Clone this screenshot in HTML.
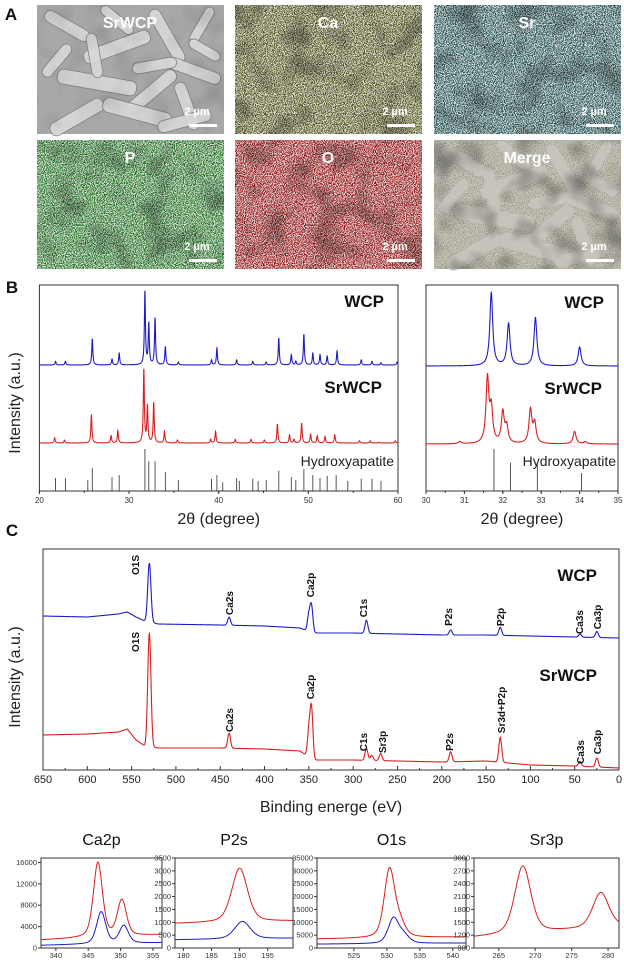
<!DOCTYPE html>
<html><head><meta charset="utf-8">
<style>
html,body{margin:0;padding:0;background:#fff;}
svg{display:block;font-family:"Liberation Sans",Arial,sans-serif;}
</style></head>
<body>
<svg id="fig" width="624" height="964" viewBox="0 0 624 964" xmlns="http://www.w3.org/2000/svg">
<defs>
<filter id="spk" x="0" y="0" width="100%" height="100%">
 <feTurbulence type="fractalNoise" baseFrequency="1.1" numOctaves="1" seed="3" result="n"/>
 <feColorMatrix in="n" type="matrix" values="0 0 0 0 1  0 0 0 0 1  0 0 0 0 1  7 0 0 0 -3.0"/>
</filter>
<filter id="patch" x="0" y="0" width="100%" height="100%">
 <feTurbulence type="fractalNoise" baseFrequency="0.035" numOctaves="2" seed="7" result="n"/>
 <feColorMatrix in="n" type="matrix" values="0 0 0 0 0  0 0 0 0 0  0 0 0 0 0  3 0 0 0 -1.4"/>
</filter>
</defs>
<g id="panelA"></g>
<g id="panelB"></g>
<g id="panelC"></g>
<g id="panelD"></g>
</svg>
<script>
// ---------- DATA: XRD (panel B, left) ----------
const wcpPos=[21.8,22.9,25.9,28.1,28.9,31.77,32.2,32.9,34.05,35.5,39.2,39.8,42.0,43.8,45.3,46.7,48.1,48.6,49.5,50.5,51.3,52.1,53.2,55.9,57.1,58.1,59.9];
const wcpInt=[5,5,36,8,16,100,56,64,25,4,7,23,7,5,4,37,14,5,42,16,14,12,19,7,5,3,4];
const srPos=[21.7,22.8,25.8,28.0,28.75,31.65,32.05,32.75,33.95,35.4,39.1,39.65,41.85,43.6,45.1,46.55,47.9,48.4,49.25,50.25,51.0,51.85,52.95,55.7,56.9,57.9,59.7];
const srInt=[7,4,39,10,17,100,50,55,16,4,5,16,5,5,4,26,11,5,27,12,10,9,11,3,3,1,3];
const hapPos=[21.8,22.9,25.4,25.9,28.1,28.9,31.77,32.2,32.9,34.05,35.5,39.2,39.8,40.45,42.0,42.3,43.8,44.4,45.3,46.7,48.1,48.6,49.5,50.5,51.3,52.1,53.1,54.4,55.9,57.1,58.1,60];
const hapInt=[31,31,26,55,33,38,100,71,71,45,26,29,38,21,31,24,29,24,26,48,33,26,52,38,31,36,38,24,29,29,24,24];
const xrdTicks=[20,30,40,50,60];
// ---------- DATA: XRD zoom (panel B, right) ----------
const wcpZPos=[31.7,32.15,32.85,34.0];
const wcpZInt=[100,58,66,26];
const srZPos=[30.88,31.6,31.7,32.0,32.1,32.72,32.83,33.87,34.15];
const srZInt=[3,88,45,42,22,46,27,17,3];
const hapZPos=[31.77,32.2,32.9,34.05];
const hapZInt=[100,67,67,43];
const xrdZTicks=[30,31,32,33,34,35];
// ---------- DATA: XPS survey (panel C) ----------
const bgBE=[650,600,565,555,545,535,520,450,400,360,345,300,200,150,100,50,0];
const wcpBg=[154,153,156,158,153,149,146,145,144,142,137,137,135,135,134,133,132];
const srBg=[35,36,38,41,30,24,22,22,21,19,10,10,8,9,5,4,2];
const wcpPeakBE=[530,440,350,347,285,190,134,44,25];
const wcpPeakAmp=[59,8,16,26,13,5,8,3,6];
const srPeakBE=[530,440,350,347,285,279,269,190,134,44,25];
const srPeakAmp=[114,15,25,50,12,5,7,10,25,5,9];
const xpsTicks=[650,600,550,500,450,400,350,300,250,200,150,100,50,0];
const wcpLabels=["O1S","Ca2s","Ca2p","C1s","P2s","P2p","Ca3s","Ca3p"];
const srLabels=["O1S","Ca2s","Ca2p","C1s","Sr3p","P2s","Sr3d+P2p","Ca3s","Ca3p"];
// ---------- DATA: high-res insets ----------
const ca2pXTicks=[340,345,350,355], ca2pYTicks=[0,4000,8000,12000,16000];
const ca2pRedPos=[346.5,350.2], ca2pRedAmp=[14000,6700], ca2pRedBg=[1500,2500];
const ca2pBluePos=[347,350.5], ca2pBlueAmp=[6000,3300], ca2pBlueBg=[500,1000];
const p2sXTicks=[180,185,190,195], p2sYTicks=[0,500,1000,1500,2000,2500,3000,3500];
const p2sRedPos=[190], p2sRedAmp=[2100], p2sRedBg=[950,1050];
const p2sBluePos=[190.5], p2sBlueAmp=[680], p2sBlueBg=[320,380];
const o1sXTicks=[525,530,535,540], o1sYTicks=[0,5000,10000,15000,20000,25000,30000,35000];
const o1sRedPos=[530.4,532], o1sRedAmp=[26500,5000], o1sRedBg=[3500,4300];
const o1sBluePos=[531,532.6], o1sBlueAmp=[9800,3000], o1sBlueBg=[1500,1900];
const sr3pXTicks=[265,270,275,280], sr3pYTicks=[900,1200,1500,1800,2100,2400,2700,3000];
const sr3pRedPos=[268.3,279], sr3pRedAmp=[1580,820], sr3pRedBg=[1150,1400];

const NS='http://www.w3.org/2000/svg';
const BLUE='#1c1cc4', RED='#d81e1e', AX='#333';
function mk(tag,attrs,parent){const e=document.createElementNS(NS,tag);for(const k in attrs)e.setAttribute(k,attrs[k]);parent.appendChild(e);return e;}
function lin(d0,d1,r0,r1){return v=>r0+(v-d0)/(d1-d0)*(r1-r0);}
function txt(p,x,y,s,size,opt){opt=opt||{};const t=mk('text',{x:x,y:y,'font-size':size,'text-anchor':opt.anchor||'middle',fill:opt.fill||'#111','font-weight':opt.bold?'bold':'normal'},p);if(opt.rot)t.setAttribute('transform','rotate('+opt.rot+' '+x+' '+y+')');t.textContent=s;return t;}
function lor(x,c,w){const d=(x-c)/w;return 1/(1+d*d);}
function gau(x,c,s){const d=(x-c)/s;return Math.exp(-0.5*d*d);}
function interp(xs,ys,x){for(let i=0;i<xs.length-1;i++){const a=xs[i],b=xs[i+1];if((x<=a&&x>=b)||(x>=a&&x<=b)){const t=(x-a)/(b-a);return ys[i]+t*(ys[i+1]-ys[i]);}}return ys[ys.length-1];}
function pathFrom(pts){return 'M'+pts.map(p=>p[0].toFixed(2)+','+p[1].toFixed(2)).join('L');}

// ================= PANEL A =================
const A=document.getElementById('panelA');
txt(A,11,20,'A',17,{bold:true});
const imgs=[
 {n:'sem-image',t:'SrWCP',x:37,y:5,base:'#a8a8a8',sp:null},
 {n:'ca-map',t:'Ca',x:235,y:5,base:'#4a4a12',sp:'#e8e23a'},
 {n:'sr-map',t:'Sr',x:434,y:5,base:'#184848',sp:'#3cc8c8'},
 {n:'p-map',t:'P',x:37,y:140,base:'#1a6a1a',sp:'#48d048'},
 {n:'o-map',t:'O',x:235,y:140,base:'#900c0c',sp:'#f02020'},
 {n:'merge-map',t:'Merge',x:434,y:140,base:'#a09e8c',sp:'#c8c040'}];
const rods=[[5,15,50,12,30],[45,35,70,14,-20],[100,25,60,12,60],[20,70,80,15,10],[85,80,60,13,-40],[130,60,55,12,20],[10,105,60,14,-30],[65,100,70,15,15],[125,95,50,12,70],[145,15,40,10,-60],[35,45,45,11,80],[95,55,45,11,-10],[150,40,35,10,30],[0,50,40,11,-50],[120,110,55,12,-15],[60,10,40,10,40]];
imgs.forEach((im,i)=>{
 const g=mk('g',{},A);
 
 
 mk('rect',{x:im.x,y:im.y,width:187,height:129,fill:im.base},g);
 if(im.sp){mk('rect',{x:im.x,y:im.y,width:187,height:129,fill:im.sp,filter:'url(#spk)',opacity:im.n==='merge-map'?0.5:0.9},g);}
 if(im.n==='sem-image'||im.n==='merge-map'){
  rods.forEach(r=>{mk('rect',{x:im.x+r[0],y:im.y+r[1],width:r[2],height:r[3],rx:6,fill:im.n==='sem-image'?'#d8d8d8':'#c6c4bc',stroke:im.n==='sem-image'?'#7a7a7a':'none','stroke-width':0.8,opacity:0.9,transform:'rotate('+r[4]+' '+(im.x+r[0]+r[2]/2)+' '+(im.y+r[1]+r[3]/2)+')'},g);});
 }
 mk('rect',{x:im.x,y:im.y,width:187,height:129,fill:'#000',filter:'url(#patch)',opacity:im.n==='sem-image'?0.1:0.3},g);
 txt(g,im.x+93,im.y+23,im.t,16,{bold:true,fill:'#fff'});
 txt(g,im.x+160,im.y+110,'2 µm',11,{bold:true,fill:'#fff'});
 mk('rect',{x:im.x+152,y:im.y+119,width:28,height:3,fill:'#fff'},g);
});

// ================= PANEL B =================
const B=document.getElementById('panelB');
txt(B,12,293,'B',17,{bold:true});
txt(B,20,403,'Intensity (a.u.)',16,{rot:-90,fill:'#222'});
function xrdPanel(name,x0,x1,d0,d1,step,series,sticks,ticks,minor,labelX){
 const g=mk('g',{},B);
 
 
 const X=lin(d0,d1,x0,x1), top=285, bot=491;
 series.forEach(s=>{
  const pts=[];for(let v=d0;v<=d1+1e-9;v+=step){let y=0;for(let i=0;i<s.pos.length;i++)y+=s.int[i]*lor(v,s.pos[i],s.w);pts.push([X(v),s.base-y*0.73]);}
  const p=mk('path',{d:pathFrom(pts),fill:'none',stroke:s.col,'stroke-width':1.1},g);
  
  
  txt(g,s.lx,s.base-(s.name.indexOf('srwcp')>=0?50:58),s.label,17,{bold:true,anchor:'end'});
 });
 sticks.pos.forEach((v,i)=>{const l=mk('line',{x1:X(v),x2:X(v),y1:bot,y2:bot-sticks.int[i]*0.42,stroke:'#444','stroke-width':0.9},g);
  
  });
 txt(g,labelX,466,'Hydroxyapatite',14,{anchor:'end',fill:'#222'});
 mk('rect',{x:x0,y:top,width:x1-x0,height:bot-top,fill:'none',stroke:AX,'stroke-width':1},g);
 ticks.forEach(t=>{mk('line',{x1:X(t),x2:X(t),y1:bot,y2:bot+3,stroke:AX},g);txt(g,X(t),503,String(t),8,{fill:'#333'});});
 for(let t=d0;t<=d1;t+=minor)mk('line',{x1:X(t),x2:X(t),y1:bot,y2:bot+2,stroke:AX},g);
 txt(g,(x0+x1)/2,524,'2θ (degree)',16,{fill:'#222'});
}
xrdPanel('xrd-full',39.4,398,20,60,0.01,[
 {name:'wcp-xrd-line',label:'WCP',pos:wcpPos,int:wcpInt,w:0.07,base:365,col:BLUE,lx:384},
 {name:'srwcp-xrd-line',label:'SrWCP',pos:srPos,int:srInt,w:0.07,base:443,col:RED,lx:382}],
 {pos:hapPos,int:hapInt},xrdTicks,5,394);
xrdPanel('xrd-zoom',426,618,30,35,0.004,[
 {name:'wcp-xrd-zoom-line',label:'WCP',pos:wcpZPos,int:wcpZInt,w:0.045,base:366,col:BLUE,lx:604},
 {name:'srwcp-xrd-zoom-line',label:'SrWCP',pos:srZPos,int:srZInt,w:0.045,base:444,col:RED,lx:602}],
 {pos:hapZPos,int:hapZInt},xrdZTicks,0.5,616);

// ================= PANEL C =================
const C=document.getElementById('panelC');
txt(C,12,536,'C',17,{bold:true});
txt(C,20,677,'Intensity (a.u.)',16,{rot:-90,fill:'#222'});
(function(){
 const x0=43,x1=619,top=549,bot=770;const X=lin(650,0,x0,x1);
 const ser=[{n:'wcp-xps-line',bg:wcpBg,pb:wcpPeakBE,pa:wcpPeakAmp,col:BLUE},{n:'srwcp-xps-line',bg:srBg,pb:srPeakBE,pa:srPeakAmp,col:RED}];
 ser.forEach(s=>{const pts=[];for(let e=650;e>=0;e-=0.5){let v=interp(bgBE,s.bg,e);for(let i=0;i<s.pb.length;i++)v+=s.pa[i]*gau(e,s.pb[i],s.pb[i]===530?1.8:1.6);pts.push([X(e),bot-v]);}
  const p=mk('path',{d:pathFrom(pts),fill:'none',stroke:s.col,'stroke-width':1.1},C);
  
  });
 mk('rect',{x:x0,y:top,width:x1-x0,height:bot-top,fill:'none',stroke:AX,'stroke-width':1},C);
 xpsTicks.forEach(t=>{mk('line',{x1:X(t),x2:X(t),y1:bot,y2:bot-4,stroke:AX},C);txt(C,X(t),783,String(t),11,{fill:'#222'});});
 for(let t=625;t>0;t-=50)mk('line',{x1:X(t),x2:X(t),y1:bot,y2:bot-2,stroke:AX},C);
 txt(C,331,812,'Binding energe (eV)',16,{fill:'#222'});
 const wl=[[135,565],[229,603],[310,585],[363,608],[448,617],[500,617],[579,622],[597,617]];
 wcpLabels.forEach((s,i)=>txt(C,wl[i][0]+4,wl[i][1],s,10,{bold:true,rot:-90}));
 const sl=[[135,642],[229,720],[310,687],[363,742],[382,742],[449,742],[501,710],[580,752],[597,742]];
 srLabels.forEach((s,i)=>txt(C,sl[i][0]+4,sl[i][1],s,10,{bold:true,rot:-90}));
 txt(C,597,581,'WCP',17,{bold:true,anchor:'end'});
 txt(C,597,681,'SrWCP',17,{bold:true,anchor:'end'});
})();

// ================= INSETS =================
const D=document.getElementById('panelD');
function inset(name,title,x0,x1,xd,yd,xt,yt,series,wid){
 const g=mk('g',{},D);
 
 
 const top=858,bot=948;const X=lin(xd[0],xd[1],x0,x1),Y=lin(yd[0],yd[1],bot,top);
 series.forEach(s=>{const pts=[];const n=220;for(let k=0;k<=n;k++){const v=xd[0]+(xd[1]-xd[0])*k/n;let y=s.bg[0]+(s.bg[1]-s.bg[0])*k/n;for(let i=0;i<s.pos.length;i++)y+=s.amp[i]*(0.6*gau(v,s.pos[i],wid)+0.4*lor(v,s.pos[i],wid*1.2));pts.push([X(v),Y(y)]);}
  const p=mk('path',{d:pathFrom(pts),fill:'none',stroke:s.col,'stroke-width':1},g);
  
  });
 mk('rect',{x:x0,y:top,width:x1-x0,height:bot-top,fill:'none',stroke:AX,'stroke-width':1},g);
 xt.forEach(t=>{mk('line',{x1:X(t),x2:X(t),y1:bot,y2:bot+3,stroke:AX},g);txt(g,X(t),958,String(t),7.5,{fill:'#333'});});
 yt.forEach(t=>{mk('line',{x1:x0,x2:x0-3,y1:Y(t),y2:Y(t),stroke:AX},g);txt(g,x0-4,Y(t)+2.5,String(t),7.5,{anchor:'end',fill:'#333'});});
 txt(g,(x0+x1)/2,845,title,16,{fill:'#111'});
}
inset('ca2p-inset','Ca2p',41,162,[337.7,356.4],[0,16830],ca2pXTicks,ca2pYTicks,[
 {n:'ca2p-srwcp-line',pos:ca2pRedPos,amp:ca2pRedAmp,bg:ca2pRedBg,col:RED},
 {n:'ca2p-wcp-line',pos:ca2pBluePos,amp:ca2pBlueAmp,bg:ca2pBlueBg,col:BLUE}],0.7);
inset('p2s-inset','P2s',175,293,[178.5,199.5],[0,3500],p2sXTicks,p2sYTicks,[
 {n:'p2s-srwcp-line',pos:p2sRedPos,amp:p2sRedAmp,bg:p2sRedBg,col:RED},
 {n:'p2s-wcp-line',pos:p2sBluePos,amp:p2sBlueAmp,bg:p2sBlueBg,col:BLUE}],1.4);
inset('o1s-inset','O1s',317,466,[519.4,542],[0,35000],o1sXTicks,o1sYTicks,[
 {n:'o1s-srwcp-line',pos:o1sRedPos,amp:o1sRedAmp,bg:o1sRedBg,col:RED},
 {n:'o1s-wcp-line',pos:o1sBluePos,amp:o1sBlueAmp,bg:o1sBlueBg,col:BLUE}],0.8);
inset('sr3p-inset','Sr3p',474,619,[261.6,281.5],[900,3000],sr3pXTicks,sr3pYTicks,[
 {n:'sr3p-srwcp-line',pos:sr3pRedPos,amp:sr3pRedAmp,bg:sr3pRedBg,col:RED}],1.1);
</script>
</body></html>
